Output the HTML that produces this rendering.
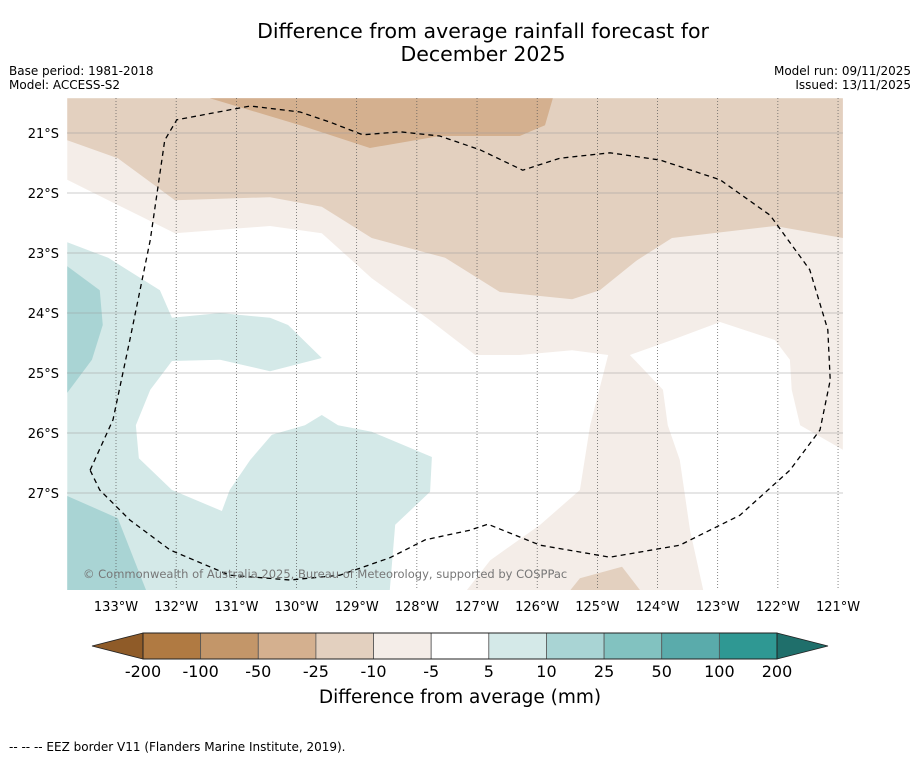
<!DOCTYPE html>
<html><head><meta charset="utf-8"><style>
body{margin:0;background:#fff;}
svg{display:block;font-family:"DejaVu Sans","Liberation Sans",sans-serif;}
</style></head><body>
<svg id="c" width="919" height="758">
<text x="483" y="38" text-anchor="middle" font-size="20.5">Difference from average rainfall forecast for</text>
<text x="483" y="61" text-anchor="middle" font-size="20.5">December 2025</text>
<text x="9" y="75" font-size="12">Base period: 1981-2018</text>
<text x="9" y="89" font-size="12">Model: ACCESS-S2</text>
<text x="911" y="75" text-anchor="end" font-size="12">Model run: 09/11/2025</text>
<text x="911" y="89" text-anchor="end" font-size="12">Issued: 13/11/2025</text>
<defs><clipPath id="mc"><rect x="67" y="98" width="776" height="492"/></clipPath></defs>
<g id="map" clip-path="url(#mc)"></g>
<g id="axes"></g>
<g id="cbar"></g>
<text x="460" y="703" text-anchor="middle" font-size="18.5">Difference from average (mm)</text>
<text x="9" y="751" font-size="12">--  --  -- EEZ border V11 (Flanders Marine Institute, 2019).</text>
</svg>
<script>
const lonTicks=[133,132,131,130,129,128,127,126,125,124,123,122,121];
const latTicks=[21,22,23,24,25,26,27];
const cbLevels=["-200","-100","-50","-25","-10","-5","5","10","25","50","100","200"];
const cbColors=["#b07a42","#c39669","#d4b08f","#e3d0bf","#f4ede8","#ffffff","#d4e9e8","#a9d4d4","#82c2c0","#5aabab","#2f9893"];
const polyVeryLightBrown=[[133.81,20.42],[120.92,20.42],[120.92,26.28],[121.63,25.87],[121.77,25.28],[121.80,24.78],[122.05,24.45],[122.96,24.15],[123.76,24.45],[124.46,24.70],[123.91,25.28],[123.83,25.87],[123.63,26.45],[123.46,27.62],[123.24,28.62],[127.17,28.62],[126.78,28.12],[125.95,27.53],[125.29,26.95],[125.12,25.87],[124.82,24.70],[125.42,24.62],[126.29,24.70],[127.03,24.70],[127.78,24.12],[128.75,23.42],[129.58,22.67],[130.44,22.55],[132.02,22.67],[132.97,22.20],[133.81,21.78]];
const polyLightBrown=[[133.81,20.42],[120.92,20.42],[120.92,22.75],[122.05,22.55],[123.76,22.75],[124.34,23.12],[124.96,23.62],[125.42,23.77],[126.62,23.65],[127.53,23.08],[128.75,22.75],[129.58,22.23],[130.44,22.07],[132.02,22.12],[132.97,21.42],[133.81,21.12]];
const polyLightBrown2=[[125.45,28.62],[125.29,28.42],[124.59,28.23],[124.29,28.62]];
const polyMidBrown=[[131.44,20.42],[129.94,20.87],[128.78,21.25],[127.62,21.05],[126.29,21.05],[125.87,20.87],[125.74,20.42]];
const polyLightTeal=[[133.81,22.82],[133.13,23.08],[132.27,23.62],[132.07,24.08],[131.27,24.00],[130.44,24.08],[130.14,24.20],[129.58,24.75],[130.44,24.97],[131.27,24.78],[132.07,24.80],[132.43,25.28],[132.67,25.87],[132.62,26.42],[132.07,26.95],[131.24,27.30],[131.11,26.95],[130.77,26.45],[130.41,26.03],[129.86,25.87],[129.58,25.70],[129.31,25.87],[128.75,25.98],[127.75,26.40],[127.78,26.98],[128.36,27.53],[128.45,28.62],[133.81,28.62]];
const polyTealA=[[133.81,23.22],[133.27,23.62],[133.22,24.20],[133.40,24.78],[133.81,25.33]];
const polyTealB=[[133.81,27.05],[132.97,27.42],[132.50,28.62],[133.81,28.62]];
const eez=[[133.43,26.62],[133.05,25.78],[132.77,24.45],[132.43,22.78],[132.19,21.12],[131.99,20.78],[130.77,20.55],[129.94,20.65],[129.44,20.82],[128.90,21.03],[128.28,20.98],[127.62,21.05],[126.95,21.28],[126.24,21.62],[125.62,21.42],[124.79,21.33],[123.96,21.45],[122.96,21.78],[122.13,22.37],[121.47,23.28],[121.17,24.28],[121.13,25.12],[121.30,25.95],[121.80,26.62],[122.63,27.37],[123.63,27.87],[124.79,28.07],[125.95,27.87],[126.82,27.52],[127.12,27.62],[127.86,27.78],[128.45,28.08],[129.28,28.37],[130.11,28.45],[131.11,28.37],[132.10,27.95],[132.77,27.45],[133.27,26.95],[133.43,26.62]];
const NS="http://www.w3.org/2000/svg";
const X=lon=>116+(133-lon)*60.17;
const Y=lat=>133+(lat-21)*60;
function mk(t,a,p){const e=document.createElementNS(NS,t);for(const k in a)e.setAttribute(k,a[k]);p.appendChild(e);return e;}
const map=document.getElementById('map'),axes=document.getElementById('axes'),cb=document.getElementById('cbar');
function poly(pts,fill,name){const e=mk('polygon',{points:pts.map(p=>X(p[0])+','+Y(p[1])).join(' '),fill:fill},map);

}
poly(polyVeryLightBrown,cbColors[4],'contour-minus10-minus5');
poly(polyLightBrown,cbColors[3],'contour-minus25-minus10');
poly(polyLightBrown2,cbColors[3],'contour-minus25-minus10-south');
poly(polyMidBrown,cbColors[2],'contour-minus50-minus25');
poly(polyLightTeal,cbColors[6],'contour-5-10');
poly(polyTealA,cbColors[7],'contour-10-25-west');
poly(polyTealB,cbColors[7],'contour-10-25-southwest');
latTicks.forEach(l=>{const e=mk('line',{x1:67,x2:843,y1:Y(l),y2:Y(l),stroke:'#999','stroke-width':0.6},map);


const t=mk('text',{x:59,y:Y(l)+5,'text-anchor':'end','font-size':13},axes);t.textContent=l+'°S';

});
lonTicks.forEach(l=>{const e=mk('line',{x1:X(l),x2:X(l),y1:98,y2:590,stroke:'#555','stroke-width':0.7,'stroke-dasharray':'1,2'},map);


const t=mk('text',{x:X(l),y:611,'text-anchor':'middle','font-size':13},axes);t.textContent=l+'°W';

});
const ee=mk('polyline',{points:eez.map(p=>X(p[0])+','+Y(p[1])).join(' '),fill:'none',stroke:'#000','stroke-width':1.3,'stroke-dasharray':'5,4'},map);


const cr=mk('text',{x:83,y:578,'font-size':11.5,fill:'#777'},map);cr.textContent='© Commonwealth of Australia 2025, Bureau of Meteorology, supported by COSPPac';


const x0=143,x1=777,w=(x1-x0)/cbColors.length,yt=633,yb=659;
const l=mk('polygon',{points:`92,646 ${x0},${yt} ${x0},${yb}`,fill:'#8f5b28',stroke:'#222','stroke-width':0.8},cb);


const r=mk('polygon',{points:`828,646 ${x1},${yt} ${x1},${yb}`,fill:'#1f6f6b',stroke:'#222','stroke-width':0.8},cb);


cbColors.forEach((c,i)=>{const e=mk('rect',{x:x0+i*w,y:yt,width:w,height:yb-yt,fill:c,stroke:'#555','stroke-width':0.8},cb);

});
mk('rect',{x:x0,y:yt,width:x1-x0,height:yb-yt,fill:'none',stroke:'#222','stroke-width':1},cb);
cbLevels.forEach((s,i)=>{const t=mk('text',{x:x0+i*w,y:677,'text-anchor':'middle','font-size':16},cb);t.textContent=s;

});
</script>
</body></html>
